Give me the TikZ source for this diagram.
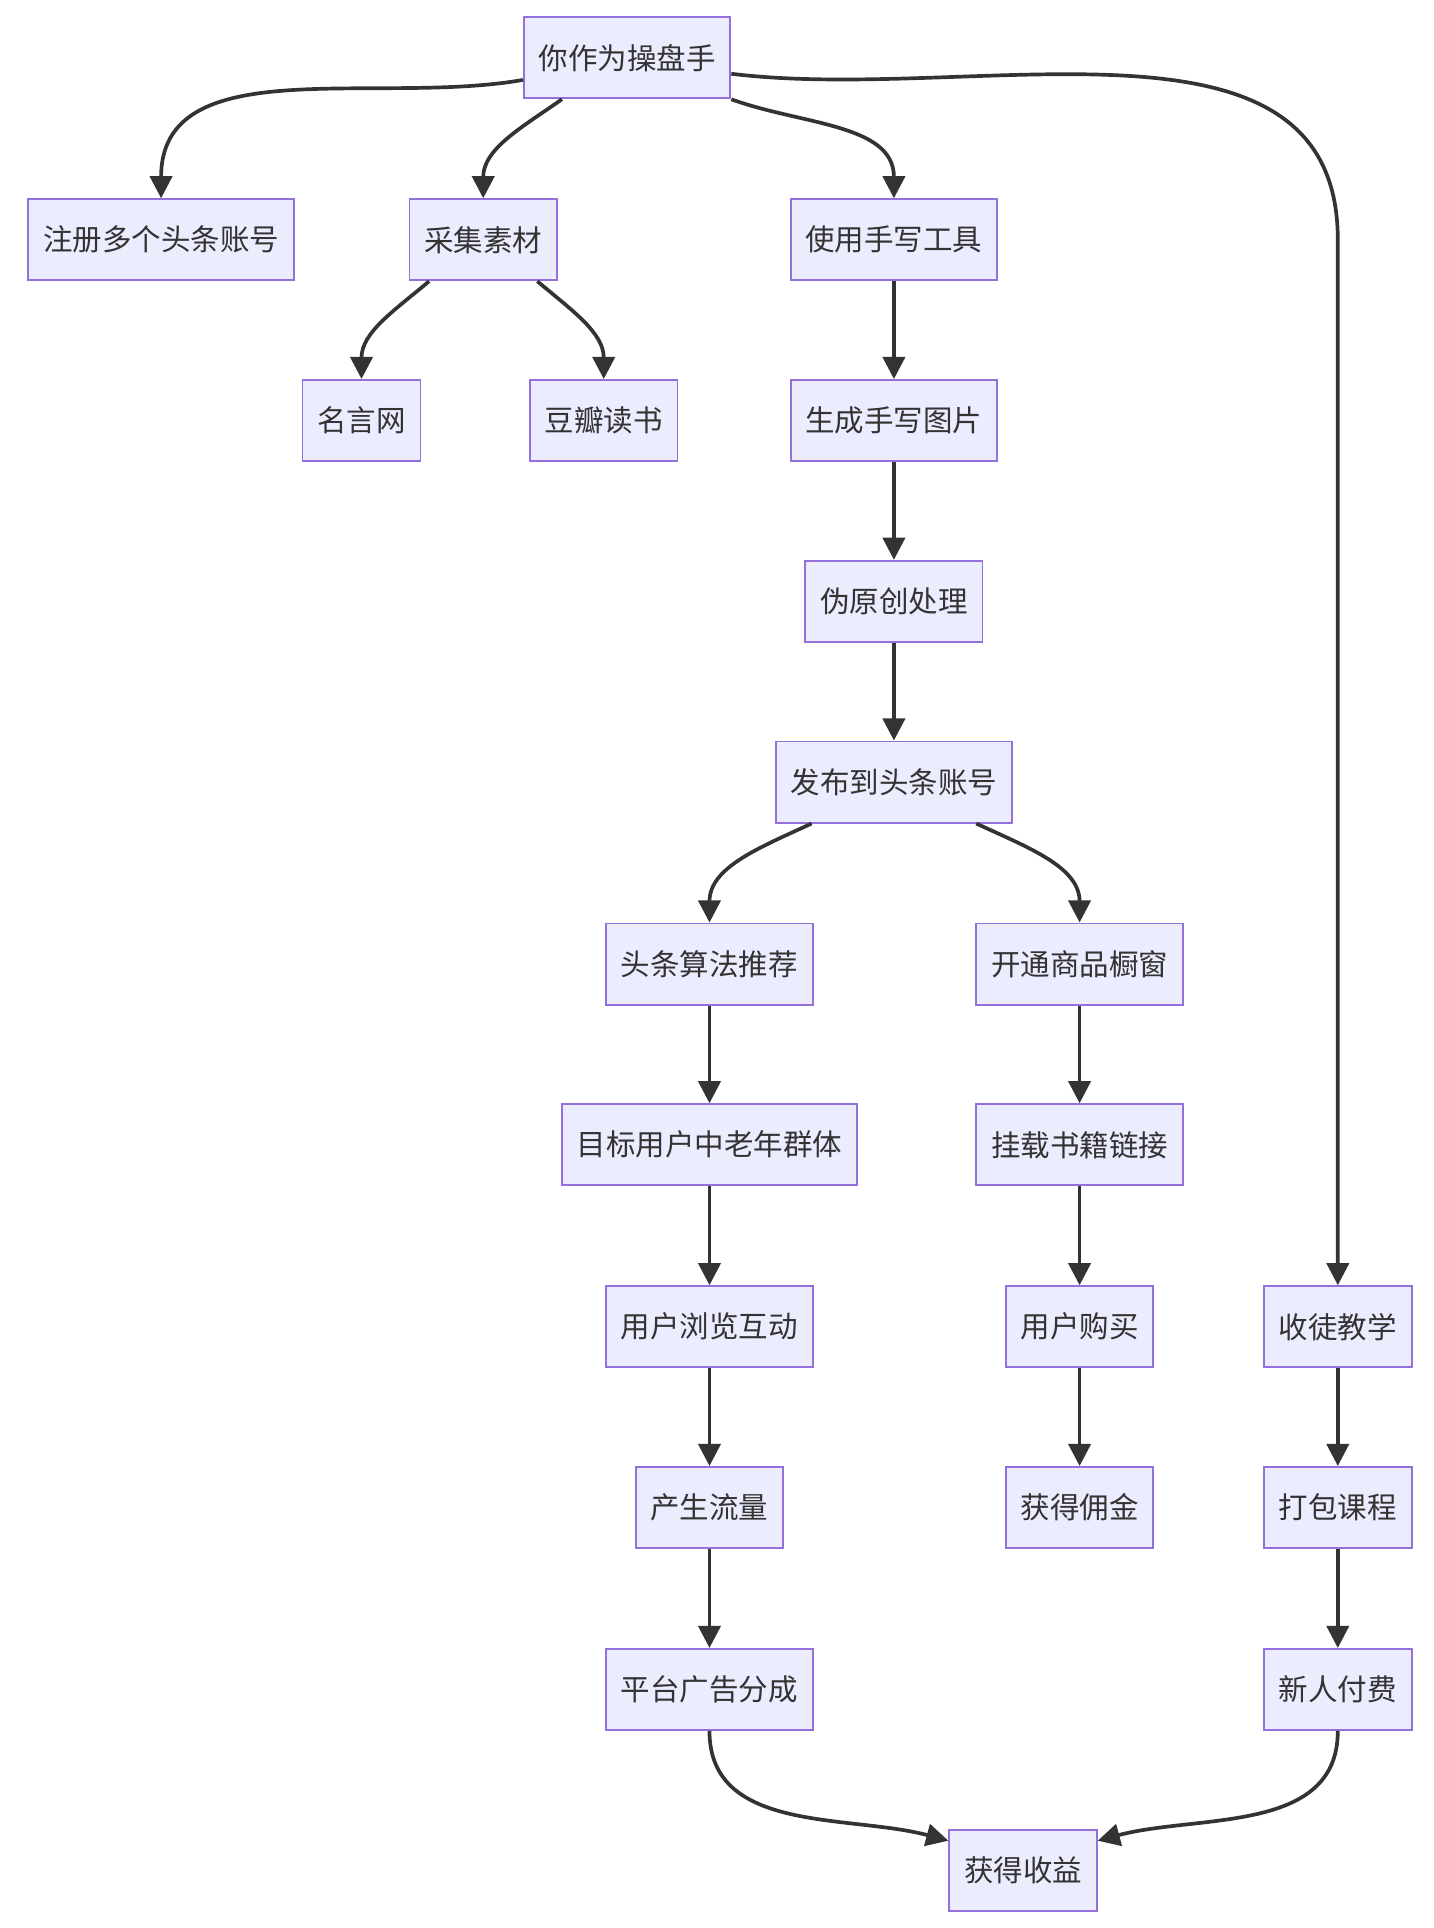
\documentclass[tikz,border=0pt]{standalone}
\usepackage{fontspec}
\setmainfont{Noto Sans CJK SC}
\usetikzlibrary{arrows.meta}
\begin{document}
\begin{tikzpicture}[x=1pt,y=-1pt,
 n/.style={draw=violet!60!blue!70, fill=blue!7, line width=1.5pt, minimum height=66pt, inner xsep=12pt, text=black!80, font=\fontsize{24}{28}\selectfont},
 e/.style={draw=black!80, line width=3pt, -{Triangle[length=18pt,width=18pt]}}]
\useasboundingbox (0,0) rectangle (1166,1568);
\colorlet{nb}{white}
\tikzset{n/.append style={draw={rgb,255:red,147;green,112;blue,219}, fill={rgb,255:red,236;green,236;blue,255}}}
\node[n] (top) at (510,47) {你作为操盘手};
\node[n] (reg) at (131,195) {注册多个头条账号};
\node[n] (cj) at (393,195) {采集素材};
\node[n] (sy) at (727,195) {使用手写工具};
\node[n] (my) at (294,342) {名言网};
\node[n] (db) at (491,342) {豆瓣读书};
\node[n] (sc) at (727,342) {生成手写图片};
\node[n] (wy) at (727,489) {伪原创处理};
\node[n] (fb) at (727,636) {发布到头条账号};
\node[n] (tt) at (577,784) {头条算法推荐};
\node[n] (kt) at (878,784) {开通商品橱窗};
\node[n] (mb) at (577,931) {目标用户中老年群体};
\node[n] (gz) at (878,931) {挂载书籍链接};
\node[n] (ll) at (577,1079) {用户浏览互动};
\node[n] (gm) at (878,1079) {用户购买};
\node[n] (st) at (1088,1079) {收徒教学};
\node[n] (cs) at (577,1226) {产生流量};
\node[n] (yj) at (878,1226) {获得佣金};
\node[n] (db2) at (1088,1226) {打包课程};
\node[n] (pt) at (577,1374) {平台广告分成};
\node[n] (xr) at (1088,1374) {新人付费};
\node[n] (sy2) at (832,1521) {获得收益};
\draw[e] ([yshift=-18pt]top.west) to[out=190,in=90] (reg.north);
\draw[e] ([xshift=-53pt]top.south) to[out=215,in=90] (cj.north);
\draw[e] (top.south east) to[out=-20,in=90] (sy.north);
\draw[e] ([yshift=-13pt]top.east) to[out=-7,in=90] (st.north|-reg.center) -- (st.north);
\draw[e] ([xshift=-44pt]cj.south) to[out=220,in=90] (my.north);
\draw[e] ([xshift=44pt]cj.south) to[out=-40,in=90] (db.north);
\draw[e] (sy) -- (sc);
\draw[e] (sc) -- (wy);
\draw[e] (wy) -- (fb);
\draw[e] ([xshift=-67pt]fb.south) to[out=205,in=90] (tt.north);
\draw[e] ([xshift=67pt]fb.south) to[out=-25,in=90] (kt.north);
\draw[e] (tt) -- (mb);
\draw[e] (mb) -- (ll);
\draw[e] (ll) -- (cs);
\draw[e] (cs) -- (pt);
\draw[e] (kt) -- (gz);
\draw[e] (gz) -- (gm);
\draw[e] (gm) -- (yj);
\draw[e] (st) -- (db2);
\draw[e] (db2) -- (xr);
\draw[e] (pt.south) to[out=-90,in=165] ([yshift=24pt]sy2.west);
\draw[e] (xr.south) to[out=-90,in=15] ([yshift=24pt]sy2.east);
\end{tikzpicture}
\end{document}
